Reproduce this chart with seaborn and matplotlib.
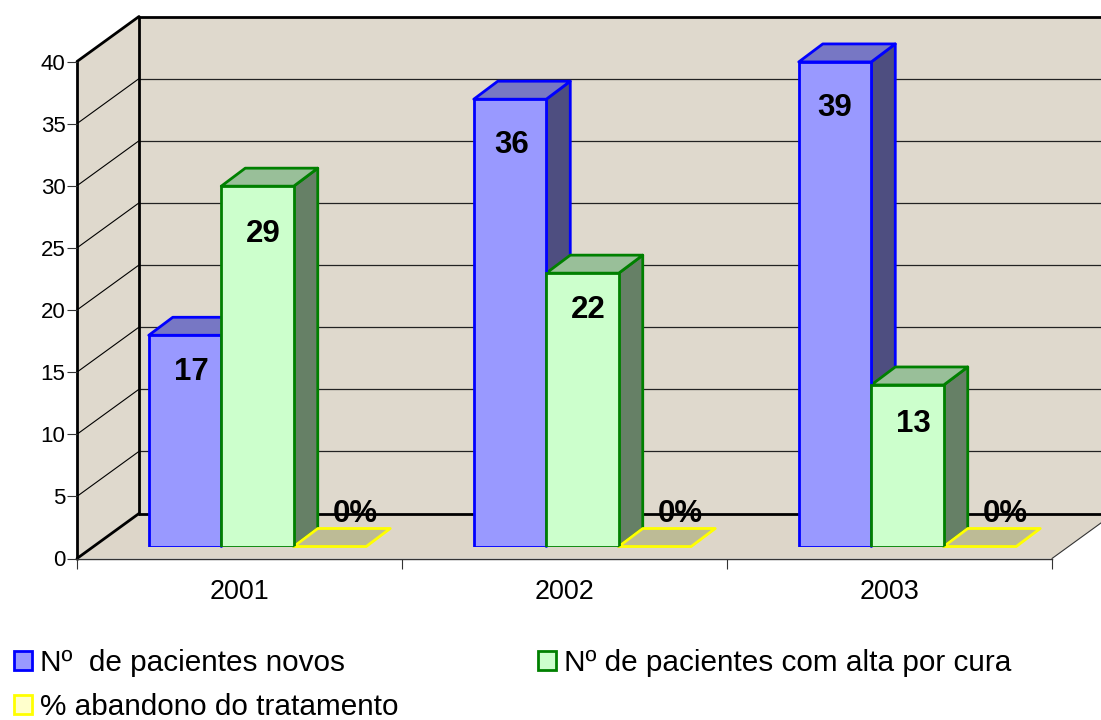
import matplotlib
matplotlib.use("Agg")
import matplotlib.pyplot as plt
import seaborn as sns
import pandas as pd
import numpy as np
from matplotlib.patches import Polygon, Patch
from matplotlib.transforms import IdentityTransform

years = ["2001", "2002", "2003"]
novos = [17, 36, 39]
alta = [29, 22, 13]
abandono = [0, 0, 0]
series_names = ["Nº  de pacientes novos", "Nº de pacientes com alta por cura", "% abandono do tratamento"]
label_text = [["17", "36", "39"], ["29", "22", "13"], ["0%", "0%", "0%"]]
face_colors = ["#9999FF", "#CCFFCC", "#FFFFCC"]
edge_colors = ["#0000FF", "#008000", "#FFFF00"]
top_colors = ["#7777C4", "#99BF99", "#BDBB96"]
side_colors = ["#4E4E80", "#668066", "#BDBB96"]
wall_color = "#DFD9CD"
floor_color = "#DDD6C9"

W, H = 1101, 720
sns.set_theme(style="white")
plt.rcParams["font.family"] = ["Liberation Sans", "DejaVu Sans"]
plt.rcParams["text.color"] = "black"
plt.rcParams["xtick.labelcolor"] = "black"
plt.rcParams["ytick.labelcolor"] = "black"

fig = plt.figure(figsize=(W / 100, H / 100), dpi=100, facecolor="white")

def axes_rect(x0, x1, ytop, ybot):
    return [x0 / W, 1 - ybot / H, (x1 - x0) / W, (ybot - ytop) / H]

# front plane of the chart box: carries the ticks and the value scale
ax = fig.add_axes(axes_rect(77, 1052, 61.5, 558.5))
ax.set_xlim(0, 3)
ax.set_ylim(0, 40)
ax.patch.set_alpha(0)
for s in ax.spines.values():
    s.set_visible(False)
ax.spines["bottom"].set_visible(True)
ax.spines["bottom"].set_color("#333333")
ax.spines["bottom"].set_linewidth(1.0)

# bar plane: same scale, pushed part way into the depth of the box
BAR_DX, BAR_DY = 18, 12
ax_bar = fig.add_axes(axes_rect(77 + BAR_DX, 1052 + BAR_DX, 61.5 - BAR_DY, 558.5 - BAR_DY))
df = pd.DataFrame({
    "year": years * 3,
    "value": novos + alta + abandono,
    "series": np.repeat(series_names, 3),
})
sns.barplot(data=df, x="year", y="value", hue="series", hue_order=series_names,
            order=years, ax=ax_bar, width=0.669, gap=0, dodge=True, legend=False,
            palette=face_colors, saturation=1, zorder=5)
ax_bar.set_xlim(-0.5, 2.5)
ax_bar.set_ylim(0, 40)
ax_bar.axis("off")
ax_bar.patch.set_alpha(0)
ax_bar.set_zorder(3)

fig.canvas.draw()

DEPTH_X, DEPTH_Y = 62, 45     # depth of the box
BD_X, BD_Y = 24, 18           # depth of a bar
idt = IdentityTransform()

def d(x, y):
    """display pixels from image pixels (x right, y down)"""
    return (x, H - y)

def poly(pts, fc, ec="none", lw=0, z=1):
    p = Polygon([d(*q) for q in pts], closed=True, transform=idt, facecolor=fc,
                edgecolor=ec, linewidth=lw, zorder=z, joinstyle="round")
    ax_bar.add_artist(p)
    p.set_clip_on(False)
    return p

def y_px(v):
    return H - ax.transData.transform((0, v))[1]

x_l, x_r = 77, 1052
y0_px, y40_px = y_px(0), y_px(40)

# walls and floor are drawn on their own background axes
bg = fig.add_axes([0, 0, 1, 1], zorder=-1)
bg.set_xlim(0, W)
bg.set_ylim(H, 0)
bg.axis("off")
bg.add_patch(Polygon([(x_l + DEPTH_X, y40_px - DEPTH_Y), (x_r + DEPTH_X, y40_px - DEPTH_Y),
                      (x_r + DEPTH_X, y0_px - DEPTH_Y), (x_l + DEPTH_X, y0_px - DEPTH_Y)],
                     fc=wall_color, ec="none"))
bg.add_patch(Polygon([(x_l, y40_px), (x_l + DEPTH_X, y40_px - DEPTH_Y),
                      (x_l + DEPTH_X, y0_px - DEPTH_Y), (x_l, y0_px)], fc=wall_color, ec="none"))
bg.add_patch(Polygon([(x_l, y0_px), (x_r, y0_px), (x_r + DEPTH_X, y0_px - DEPTH_Y),
                      (x_l + DEPTH_X, y0_px - DEPTH_Y)], fc=floor_color, ec="none"))
# gridlines
for v in range(5, 40, 5):
    yy = y_px(v)
    bg.plot([x_l, x_l + DEPTH_X], [yy, yy - DEPTH_Y], color="black", lw=0.8, solid_capstyle="butt")
    bg.plot([x_l + DEPTH_X, x_r + DEPTH_X], [yy - DEPTH_Y, yy - DEPTH_Y], color="#222222", lw=0.9)
# frame
ky0 = y0_px - DEPTH_Y
ky40 = y40_px - DEPTH_Y
kx = x_l + DEPTH_X
thick = 2.0
bg.plot([x_l, x_l], [y0_px, y40_px], color="black", lw=thick)
bg.plot([x_l, kx], [y40_px, ky40], color="black", lw=thick)
bg.plot([x_l, kx], [y0_px, ky0], color="black", lw=thick)
bg.plot([kx, kx], [ky0, ky40], color="black", lw=thick)
bg.plot([kx, W], [ky40, ky40], color="black", lw=thick)
bg.plot([kx, W], [ky0, ky0], color="black", lw=thick)
bg.plot([x_r, x_r + DEPTH_X], [y0_px, ky0], color="#333333", lw=0.8)
bg.set_xlim(0, W)
bg.set_ylim(H, 0)

# ticks
ax.set_xticks([0, 1, 2, 3])
ax.set_xticklabels([])
ax.set_xticks([0.5, 1.5, 2.5], minor=True)
ax.set_xticklabels(years, minor=True, fontsize=19.4, color="black")
ax.tick_params(axis="x", which="major", length=7.2, width=0.8, color="#333333", bottom=True)
ax.tick_params(axis="x", which="minor", length=0, pad=14.5, bottom=False)
ax.set_yticks(range(0, 45, 5))
ax.tick_params(axis="y", length=7.2, width=0.8, color="#333333", labelsize=16, pad=1, left=True)
ax.set_xlabel("")
ax.set_ylabel("")

# 3-D faces of each bar, from the bars seaborn placed
label_dy = [[37, 46, 46], [48, 37, 39], [-33, -33, -33]]
label_dx = [[6, 2, 0], [6, 6, 6], [25, 25, 25]]
for i, cont in enumerate(ax_bar.containers):
    for j, bar in enumerate(cont):
        bar.set_edgecolor(edge_colors[i])
        bar.set_linewidth(2.0)
        (xa, yb), (xb, yt) = ax_bar.transData.transform(
            [(bar.get_x(), 0), (bar.get_x() + bar.get_width(), bar.get_height())])
        xa, xb = float(xa), float(xb)
        pyb, pyt = H - float(yb), H - float(yt)
        z = 2 + 0.1 * i
        if bar.get_height() > 0:
            poly([(xb, pyt), (xb + BD_X, pyt - BD_Y), (xb + BD_X, pyb - BD_Y), (xb, pyb)],
                 side_colors[i], edge_colors[i], 2.0, z)
        poly([(xa, pyt), (xa + BD_X, pyt - BD_Y), (xb + BD_X, pyt - BD_Y), (xb, pyt)],
             top_colors[i], edge_colors[i], 2.0, z)
        ax_bar.text((xa + xb) / 2 + label_dx[i][j], H - (pyt + label_dy[i][j]),
                    label_text[i][j], transform=idt, ha="center", va="center",
                    fontsize=22.5, fontweight="bold", color="black", zorder=9)

# legend (filled column by column, as in the reference)
order = [0, 2, 1]
handles = [Patch(facecolor=face_colors[i], edgecolor=edge_colors[i], linewidth=2.0, label=series_names[i])
           for i in order]
fig.legend(handles=handles, loc="upper left", bbox_to_anchor=(14 / W, 1 - 649 / H), ncol=2,
           frameon=False, fontsize=21.4, handlelength=0.62, handleheight=0.62, handletextpad=0.25,
           labelspacing=0.54, columnspacing=4.7, borderpad=0, borderaxespad=0)

fig.savefig("out.png", dpi=100, facecolor="white")
